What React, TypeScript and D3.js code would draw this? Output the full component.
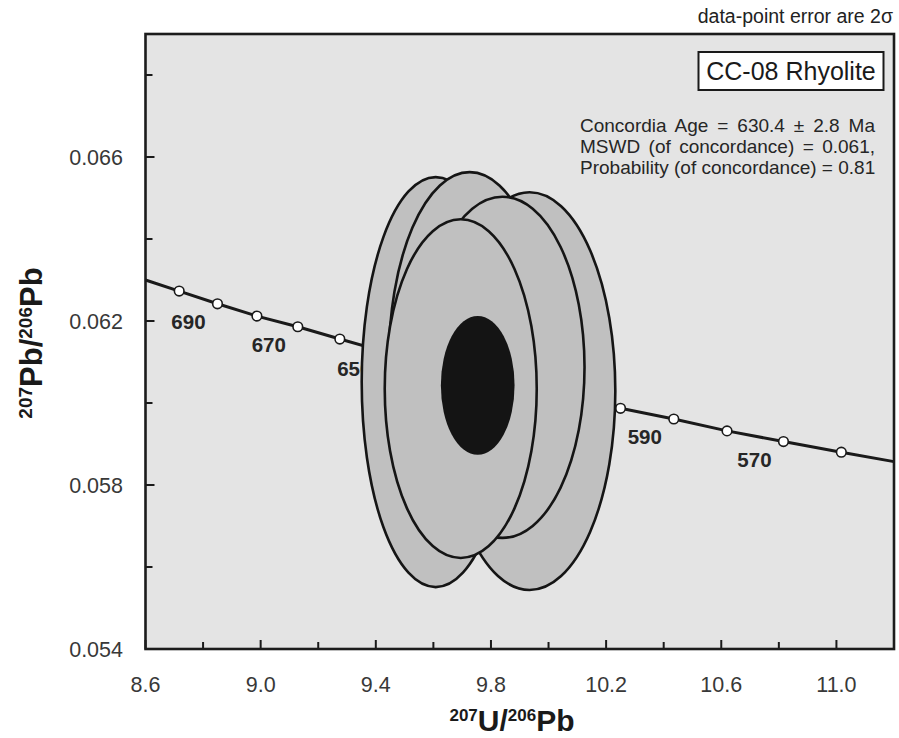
import React, { useEffect, useRef } from "react";
import * as d3 from "d3";

const W = 899;
const H = 738;
const FONT = "'Liberation Sans', Arial, Helvetica, sans-serif";

// axis ticks
const xMajor = [8.6, 9.0, 9.4, 9.8, 10.2, 10.6, 11.0];
const xMinor = [8.8, 9.2, 9.6, 10.0, 10.4, 10.8];
const yMajor = [0.054, 0.058, 0.062, 0.066];
const yMinor = [0.056, 0.06, 0.064, 0.068];

// concordia curve (age marks every 10 Ma)
const ages = [700, 690, 680, 670, 660, 650, 640, 630, 620, 610, 600, 590, 580, 570, 560];
const concX = [8.717, 8.85, 8.987, 9.129, 9.275, 9.426, 9.58, 9.74, 9.91, 10.08, 10.25, 10.435, 10.62, 10.816, 11.017];
const concY = [0.06273, 0.06242, 0.06212, 0.06186, 0.06156, 0.06126, 0.06097, 0.06069, 0.06041, 0.06014, 0.05987, 0.05961, 0.05932, 0.05906, 0.0588];
const labelledAges = [690, 670, 650, 630, 610, 590, 570];
const concStart = [8.6, 0.063];
const concEnd = [11.2, 0.05857];

// data-point error ellipses (2 sigma), back to front
const ellCx = [9.608, 9.726, 9.934, 9.84, 9.695];
const ellCy = [0.06051, 0.06102, 0.06029, 0.06087, 0.06035];
const ellRx = [0.257, 0.281, 0.298, 0.285, 0.264];
const ellRy = [0.005, 0.00461, 0.00485, 0.00416, 0.00413];
// concordia age ellipse
const ageEllipse = [9.754, 0.06043, 0.128, 0.001695];

const sampleName = "CC-08 Rhyolite";
const statLines = [
  "Concordia Age = 630.4 \u00b1 2.8 Ma",
  "MSWD (of concordance) = 0.061,",
  "Probability (of concordance) = 0.81",
];
const errNote = "data-point error are 2\u03c3";

export default function App() {
  const svgRef = useRef<SVGSVGElement>(null);

  useEffect(() => {
    if (!svgRef.current) return;
    const svg = d3.select(svgRef.current);
    svg.selectAll("*").remove();

    const left = 145.5, right = 894, top = 34, bottom = 649;
    const x = d3.scaleLinear().domain([8.6, 11.2]).range([left, right]);
    const y = d3.scaleLinear().domain([0.054, 0.069]).range([bottom, top]);

    svg.append("rect").attr("width", W).attr("height", H).attr("fill", "#ffffff");

    // plot background
    svg.append("rect")
      .attr("x", left).attr("y", top)
      .attr("width", right - left).attr("height", bottom - top)
      .attr("fill", "#e4e4e4");

    // concordia line
    const pts: [number, number][] = [concStart as [number, number]];
    ages.forEach((a, i) => pts.push([concX[i], concY[i]]));
    pts.push(concEnd as [number, number]);
    const line = d3.line<[number, number]>().x(d => x(d[0])).y(d => y(d[1]));
    svg.append("path")
      .attr("d", line(pts))
      .attr("fill", "none")
      .attr("stroke", "#1a1a1a")
      .attr("stroke-width", 3);

    svg.append("g")
      .selectAll("circle")
      .data(ages)
      .enter()
      .append("circle")
      .attr("cx", (d, i) => x(concX[i]))
      .attr("cy", (d, i) => y(concY[i]))
      .attr("r", 4.8)
      .attr("fill", "#ffffff")
      .attr("stroke", "#1a1a1a")
      .attr("stroke-width", 1.6);

    svg.append("g")
      .selectAll("text")
      .data(labelledAges)
      .enter()
      .append("text")
      .attr("x", d => x(concX[ages.indexOf(d)]) - 29)
      .attr("y", d => y(concY[ages.indexOf(d)]) + 25)
      .attr("text-anchor", "middle")
      .attr("font-family", FONT)
      .attr("font-weight", "bold")
      .attr("font-size", 20.5)
      .attr("fill", "#262626")
      .text(d => d);

    // error ellipses
    const eg = svg.append("g");
    ellCx.forEach((cx, i) => {
      eg.append("ellipse")
        .attr("cx", x(cx))
        .attr("cy", y(ellCy[i]))
        .attr("rx", x(cx + ellRx[i]) - x(cx))
        .attr("ry", y(ellCy[i]) - y(ellCy[i] + ellRy[i]))
        .attr("fill", "#c0c0c0")
        .attr("stroke", "#151515")
        .attr("stroke-width", 2.6);
    });
    eg.append("ellipse")
      .attr("cx", x(ageEllipse[0]))
      .attr("cy", y(ageEllipse[1]))
      .attr("rx", x(ageEllipse[0] + ageEllipse[2]) - x(ageEllipse[0]))
      .attr("ry", y(ageEllipse[1]) - y(ageEllipse[1] + ageEllipse[3]))
      .attr("fill", "#141414");

    // ticks (inside)
    const tg = svg.append("g").attr("stroke", "#1a1a1a").attr("stroke-width", 2);
    xMajor.forEach(v => tg.append("line").attr("x1", x(v)).attr("x2", x(v)).attr("y1", bottom).attr("y2", bottom - 9));
    xMinor.forEach(v => tg.append("line").attr("x1", x(v)).attr("x2", x(v)).attr("y1", bottom).attr("y2", bottom - 7));
    yMajor.forEach(v => tg.append("line").attr("x1", left).attr("x2", left + 9).attr("y1", y(v)).attr("y2", y(v)));
    yMinor.forEach(v => tg.append("line").attr("x1", left).attr("x2", left + 7).attr("y1", y(v)).attr("y2", y(v)));

    // frame
    svg.append("rect")
      .attr("x", left).attr("y", top)
      .attr("width", right - left).attr("height", bottom - top)
      .attr("fill", "none")
      .attr("stroke", "#1c1c1c")
      .attr("stroke-width", 2.6);

    // tick labels
    svg.append("g")
      .selectAll("text")
      .data(xMajor)
      .enter()
      .append("text")
      .attr("x", d => x(d))
      .attr("y", 692)
      .attr("text-anchor", "middle")
      .attr("font-family", FONT)
      .attr("font-size", 21.5)
      .attr("fill", "#383838")
      .text(d => d3.format(".1f")(d));

    svg.append("g")
      .selectAll("text")
      .data(yMajor)
      .enter()
      .append("text")
      .attr("x", 123)
      .attr("y", d => y(d) + 8)
      .attr("text-anchor", "end")
      .attr("font-family", FONT)
      .attr("font-size", 21.5)
      .attr("fill", "#383838")
      .text(d => d3.format(".3f")(d));

    // axis titles
    const xt = svg.append("text")
      .attr("x", 512).attr("y", 731)
      .attr("text-anchor", "middle")
      .attr("font-family", FONT)
      .attr("font-weight", "bold")
      .attr("fill", "#1a1a1a");
    xt.append("tspan").attr("font-size", 17).attr("dy", -10).text("207");
    xt.append("tspan").attr("font-size", 30).attr("dy", 10).text("U/");
    xt.append("tspan").attr("font-size", 17).attr("dy", -10).text("206");
    xt.append("tspan").attr("font-size", 30).attr("dy", 10).text("Pb");

    const yt = svg.append("text")
      .attr("transform", "translate(42,343) rotate(-90)")
      .attr("text-anchor", "middle")
      .attr("font-family", FONT)
      .attr("font-weight", "bold")
      .attr("fill", "#1a1a1a");
    yt.append("tspan").attr("font-size", 19).attr("dy", -10).text("207");
    yt.append("tspan").attr("font-size", 31).attr("dy", 10).text("Pb/");
    yt.append("tspan").attr("font-size", 19).attr("dy", -10).text("206");
    yt.append("tspan").attr("font-size", 31).attr("dy", 10).text("Pb");

    // note above plot
    svg.append("text")
      .attr("x", 893).attr("y", 22.5)
      .attr("text-anchor", "end")
      .attr("font-family", FONT)
      .attr("font-size", 19.5)
      .attr("fill", "#222")
      .text(errNote);

    // sample label box
    svg.append("rect")
      .attr("x", 698.5).attr("y", 52)
      .attr("width", 185).attr("height", 38)
      .attr("fill", "#ffffff")
      .attr("stroke", "#1a1a1a")
      .attr("stroke-width", 2);
    svg.append("text")
      .attr("x", 791).attr("y", 80)
      .attr("text-anchor", "middle")
      .attr("font-family", FONT)
      .attr("font-size", 25)
      .attr("fill", "#1a1a1a")
      .text(sampleName);

    // statistics, justified between 580 and 875
    statLines.forEach((s, i) => {
      const t = svg.append("text")
        .attr("x", 580).attr("y", 131.7 + i * 21.2)
        .attr("font-family", FONT)
        .attr("font-size", 19)
        .attr("fill", "#262626")
        .text(s);
      const node = t.node() as SVGTextElement;
      const len = node.getComputedTextLength();
      const spaces = s.split(" ").length - 1;
      if (spaces > 0 && len < 295) t.attr("word-spacing", (295 - len) / spaces);
    });
  }, []);

  return (
    <svg
      ref={svgRef}
      width={W}
      height={H}
      style={{ position: "absolute", left: 0, top: 0, display: "block" }}
    />
  );
}
